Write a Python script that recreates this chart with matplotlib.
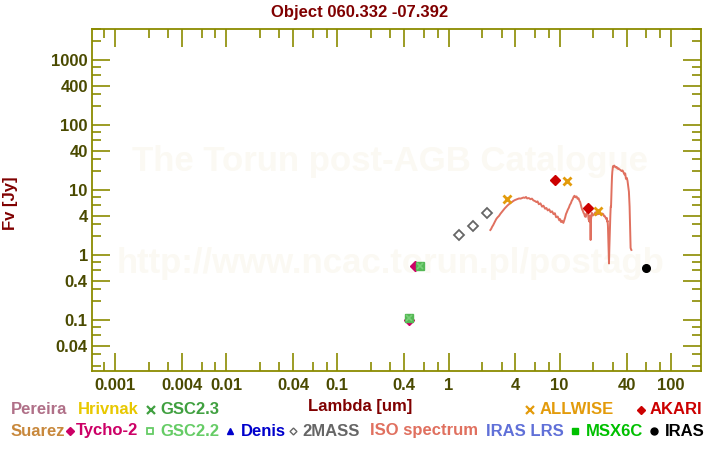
import matplotlib
matplotlib.use("Agg")
import matplotlib.pyplot as plt
from matplotlib.lines import Line2D
from matplotlib.ticker import FixedLocator, FixedFormatter, LogLocator, NullFormatter

plt.rcParams['font.family'] = ['Liberation Sans', 'DejaVu Sans']
plt.rcParams['font.weight'] = 'bold'

title = "Object 060.332 -07.392"

# photometry (wavelength in um, flux in Jy)
tmass_wl = [1.25, 1.65, 2.2]
tmass_fl = [2.03, 2.85, 4.47]
allwise_wl = [3.35, 11.6, 22.1]
allwise_fl = [7.27, 13.7, 4.8]
akari_wl = [9.0, 18.0]
akari_fl = [14.3, 5.4]
iras_wl = [60.0]
iras_fl = [0.638]
tycho_wl = [0.44, 0.50]
tycho_fl = [0.100, 0.69]
gsc22_wl = [0.44, 0.557]
gsc22_fl = [0.108, 0.69]
gsc23_wl = [0.44, 0.557]
gsc23_fl = [0.108, 0.69]

# ISO spectrum, traced by hand
iso_wl = [2.38, 2.42, 2.47, 2.52, 2.58, 2.64, 2.70, 2.77, 2.85, 2.93, 3.02, 3.11,
          3.20, 3.30, 3.40, 3.50, 3.60, 3.72, 3.83, 3.94, 4.05, 4.18, 4.32, 4.45,
          4.60, 4.73, 4.86, 4.98, 5.10, 5.28, 5.47, 5.63, 5.80, 5.98, 6.17, 6.33,
          6.50, 6.72, 6.95, 7.15, 7.40, 7.60, 7.82, 8.05, 8.30, 8.55, 8.81, 9.05,
          9.30, 9.60, 9.93, 10.1, 10.3, 10.5, 10.8, 11.0, 11.2, 11.4, 11.6, 11.85,
          12.1, 12.35, 12.6, 12.85, 13.1, 13.35, 13.6, 13.9, 14.2, 14.5, 14.8, 15.05,
          15.3, 15.5, 15.7, 15.95, 16.2, 16.4, 16.6, 16.9, 17.2, 17.4, 17.6, 17.8,
          18.0, 18.2, 18.5, 18.7, 18.9, 19.0, 19.1, 19.3, 19.5, 19.9, 20.5, 21.0,
          21.5, 21.9, 22.4, 23.0, 23.5, 24.1, 24.7, 25.1, 25.5, 25.9, 26.3, 26.6,
          26.8, 27.0, 27.2, 27.4, 27.6, 27.8, 27.9, 28.0, 28.2, 28.4, 28.6, 28.8,
          29.0, 29.2, 29.4, 29.6, 29.8, 30.2, 30.6, 31.0, 31.5, 32.0, 32.6, 33.2,
          33.8, 34.5, 35.3, 36.0, 36.8, 37.5, 38.3, 38.9, 39.5, 40.2, 40.8, 41.3,
          41.7, 42.0, 42.3, 42.6, 42.9, 43.2, 43.5, 43.8, 44.2]
iso_fl = [2.45, 2.55, 2.75, 2.90, 3.15, 3.40, 3.65, 3.85, 4.05, 4.35, 4.65, 4.95,
          5.25, 5.55, 5.85, 6.10, 6.40, 6.60, 6.85, 7.05, 7.20, 7.35, 7.50, 7.45,
          7.60, 7.75, 7.65, 7.90, 7.50, 7.60, 7.30, 7.45, 7.00, 6.85, 6.60, 6.75,
          6.10, 6.30, 5.60, 5.80, 5.20, 5.35, 4.90, 5.10, 4.60, 4.75, 4.30, 4.45,
          3.85, 3.95, 3.45, 3.60, 3.25, 3.40, 3.15, 3.45, 3.80, 4.30, 4.60, 5.05,
          5.40, 5.95, 6.30, 6.90, 7.30, 7.90, 8.25, 7.80, 8.05, 7.40, 7.55, 6.90,
          6.60, 6.00, 5.50, 5.05, 4.80, 4.50, 4.40, 3.95, 3.90, 4.40, 4.30, 4.60,
          4.40, 3.60, 3.30, 4.10, 3.20, 1.72, 3.40, 4.00, 4.50, 4.10, 4.30, 4.60,
          4.20, 4.50, 4.30, 4.45, 4.20, 4.40, 4.30, 4.00, 4.00, 3.80, 3.60, 3.75,
          3.30, 3.40, 2.80, 1.80, 1.20, 0.75, 1.10, 1.28, 2.00, 3.00, 4.20, 5.60,
          5.60, 8.50, 12.0, 16.5, 19.5, 23.5, 23.0, 24.0, 23.2, 22.5, 22.8, 21.5,
          21.8, 21.0, 20.5, 19.8, 20.2, 19.0, 17.5, 18.2, 15.0, 15.5, 14.0, 12.0,
          10.5, 9.5, 7.5, 5.6, 3.5, 2.3, 1.30, 1.25, 1.21]

xtick_vals = [0.001, 0.004, 0.01, 0.04, 0.1, 0.4, 1, 4, 10, 40, 100]
xtick_labels = ["0.001", "0.004", "0.01", "0.04", "0.1", "0.4", "1", "4", "10", "40", "100"]
ytick_vals = [0.04, 0.1, 0.4, 1, 4, 10, 40, 100, 400, 1000]
ytick_labels = ["0.04", "0.1", "0.4", "1", "4", "10", "40", "100", "400", "1000"]

W, H = 720, 450
dark_red = '#800000'
frame_col = '#8b8b00'
tick_text = '#4a4a00'

fig = plt.figure(figsize=(7.2, 4.5), dpi=100)
fig.patch.set_facecolor('white')


def fx(px):
    return px / W


def fy(py):
    return 1 - py / H


ax = fig.add_axes([fx(92), fy(371), fx(701) - fx(92), fy(29.3) - fy(371)])
ax.set_xscale('log')
ax.set_yscale('log')
ax.set_xlim(6.2e-4, 187)
ax.set_ylim(0.0166, 3000)

# watermark, kept under the data
wm = '#fbf9f3'
ax.text(fx(390), fy(162), "The Torun post-AGB Catalogue", fontsize=25, color=wm,
        ha='center', va='center', zorder=0, transform=fig.transFigure)
ax.text(fx(391), fy(263), "http://www.ncac.torun.pl/postagb", fontsize=25, color=wm,
        ha='center', va='center', zorder=0, transform=fig.transFigure)

ax.plot(iso_wl, iso_fl, color='#e0705f', lw=1.4, zorder=2)
ax.plot(tmass_wl, tmass_fl, 'D', ms=4.6, mfc='none', mec='#666666', mew=1.3, zorder=3)
ax.plot(tycho_wl, tycho_fl, 'D', ms=4.6, color='#cc0066', zorder=3)
ax.plot(gsc22_wl, gsc22_fl, 's', ms=5.5, mfc='#55b855', mec='#55b855', mew=1.0, zorder=4)
ax.plot(gsc23_wl, gsc23_fl, 'x', ms=4.5, color='#78d078', mew=1.2, zorder=5)
ax.plot(akari_wl, akari_fl, 'D', ms=5.0, color='#cc0000', zorder=5)
ax.plot(allwise_wl, allwise_fl, 'x', ms=6, color='#e39b0b', mew=2.0, zorder=6)
ax.plot(iras_wl, iras_fl, 'o', ms=5.5, color='black', zorder=6)

for s in ax.spines.values():
    s.set_color(frame_col)
    s.set_linewidth(1.3)

for axis, vals, labs in ((ax.xaxis, xtick_vals, xtick_labels), (ax.yaxis, ytick_vals, ytick_labels)):
    axis.set_major_locator(FixedLocator(vals))
    axis.set_major_formatter(FixedFormatter(labs))
    axis.set_minor_locator(LogLocator(base=10, subs=[2, 3, 6, 8], numticks=30))
    axis.set_minor_formatter(NullFormatter())

ax.tick_params(which='both', direction='in', top=True, right=True, color=frame_col,
               labelcolor=tick_text, labelsize=12)
ax.tick_params(which='major', length=13, width=1.2)
ax.tick_params(which='minor', length=6.5, width=1.2)
ax.tick_params(axis='x', pad=5)
ax.tick_params(axis='y', pad=3)
for lab in ax.get_xticklabels() + ax.get_yticklabels():
    lab.set_fontweight('bold')

fig.text(0.5, fy(12), title, fontsize=12, color=dark_red, ha='center', va='center')
fig.text(fx(360), fy(407), "Lambda [um]", fontsize=12, color=dark_red, ha='center', va='center')
fig.text(fx(11), fy(203), "Fv [Jy]", fontsize=12, color=dark_red, ha='center', va='center',
         rotation=90)

# legend rows, placed like the original
legend_items = [
    # text, color, marker, marker x, text x, row y
    ("Pereira", '#b07088', None, None, 11, 410),
    ("Hrivnak", '#e8c800', None, None, 78, 410),
    ("GSC2.3", '#40a040', 'x', 151, 160, 410),
    ("ALLWISE", '#e39b0b', 'x', 530, 540, 410),
    ("AKARI", '#cc0000', 'D', 641, 650, 410),
    ("Suarez", '#c8883c', None, None, 11, 431),
    ("Tycho-2", '#cc0066', 'D', 70, 76, 431),
    ("GSC2.2", '#66cc66', 's', 150, 160, 431),
    ("Denis", '#0000cc', '^', 230, 241, 431),
    ("2MASS", '#666666', 'Do', 293, 302, 431),
    ("ISO spectrum", '#e0705f', None, None, 370, 431),
    ("IRAS LRS", '#6070d8', None, None, 486, 431),
    ("MSX6C", '#00c000', 's', 575, 586, 431),
    ("IRAS", '#000000', 'o', 654, 665, 431),
]
for text, col, mk, mx, tx, ry in legend_items:
    fig.text(fx(tx), fy(ry), text, fontsize=12, color=col, ha='left', va='center')
    if mk is None:
        continue
    kw = dict(color=col, ms=4, transform=fig.transFigure, linestyle='none')
    if mk == 'Do':
        kw.update(marker='D', mfc='none', mec=col, mew=1.0, ms=3.5)
    elif mk == 'x':
        kw.update(marker='x', mew=1.6, ms=5.5)
    elif mk == 'D':
        kw.update(marker='D', ms=3.8)
    elif mk == 's' and text == 'GSC2.2':
        kw.update(marker='s', mfc='none', mec=col, mew=1.3, ms=4.5)
    else:
        kw.update(marker=mk, ms=5)
    fig.add_artist(Line2D([fx(mx)], [fy(ry)], **kw))

fig.savefig("out.png", dpi=100, facecolor='white')
